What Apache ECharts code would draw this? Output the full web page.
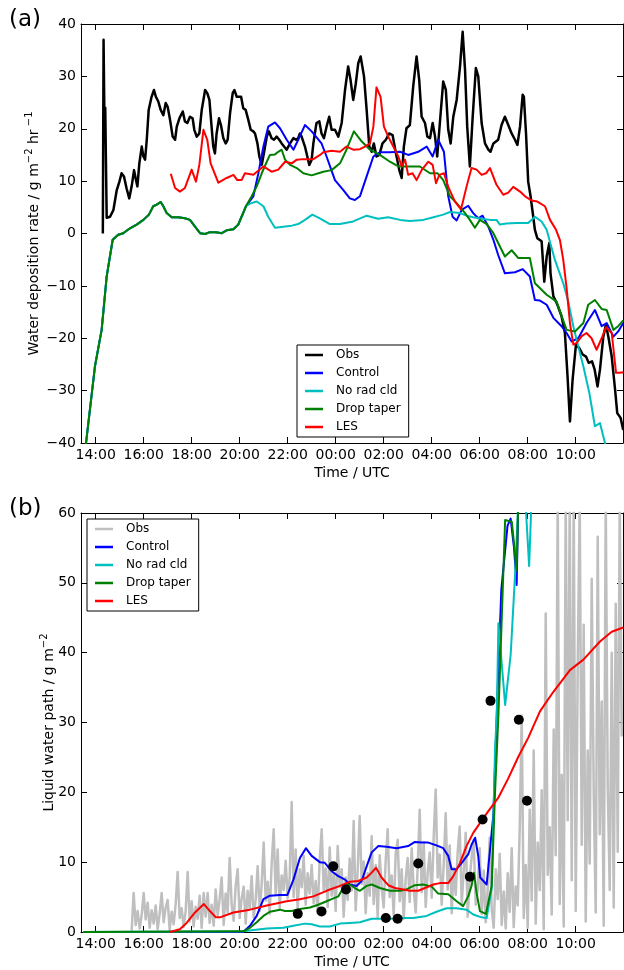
<!DOCTYPE html>
<html>
<head>
<meta charset="utf-8">
<script src="https://cdn.jsdelivr.net/npm/echarts@6/dist/echarts.min.js"></script>
<style>
  html, body { margin: 0; padding: 0; background: #fff; }
  #chart { width: 624px; height: 970px; }
</style>
</head>
<body>
<div id="chart"></div>
<script>
// Time is in decimal hours from 00:00 UTC of the first day (values above 24 fall on the next day).
const timeTicks = [14, 16, 18, 20, 22, 24, 26, 28, 30, 32, 34];
const rateTicks = [-40, 40, 10];   // min, max, step
const lwpTicks = [0, 60, 10];

// ---- (a) Water deposition rate, g m-2 hr-1 ----
const obsRate = [[14.30,0],[14.33,37],[14.37,20],[14.40,24],[14.46,3],[14.60,3.2],[14.74,4.5],[14.81,6.4],[14.88,8.3],[14.99,9.9],[15.08,11.5],[15.18,10.9],[15.29,8.6],[15.40,6.7],[15.50,9.0],[15.60,12.1],[15.68,10.2],[15.74,9.0],[15.82,13.4],[15.92,16.6],[15.99,14.7],[16.06,14.1],[16.13,17.9],[16.21,23.6],[16.33,26.1],[16.43,27.4],[16.51,26.1],[16.61,25.2],[16.71,23.6],[16.82,22.6],[16.92,24.9],[17.00,24.2],[17.10,21.7],[17.21,18.5],[17.31,17.9],[17.38,20.4],[17.49,22.0],[17.63,23.3],[17.72,21.4],[17.82,21.1],[17.93,22.3],[18.04,22.0],[18.11,19.8],[18.21,18.5],[18.32,19.1],[18.42,23.6],[18.56,27.4],[18.65,26.8],[18.74,25.5],[18.83,20.4],[18.90,16.6],[18.97,15.3],[19.04,19.1],[19.14,22.0],[19.22,20.7],[19.32,18.2],[19.42,17.2],[19.50,17.9],[19.60,23.0],[19.71,26.8],[19.78,27.4],[19.88,26.1],[19.97,26.1],[20.06,26.1],[20.15,23.9],[20.25,23.6],[20.36,21.7],[20.46,19.8],[20.57,19.5],[20.64,19.1],[20.74,17.2],[20.82,14.7],[20.92,13.1],[21.01,15.3],[21.13,18.5],[21.22,19.5],[21.33,18.2],[21.43,17.9],[21.54,18.5],[21.65,17.9],[21.75,17.2],[21.85,16.6],[21.96,16.0],[22.10,17.2],[22.24,18.2],[22.35,17.9],[22.44,18.2],[22.51,19.1],[22.58,18.5],[22.72,16.6],[22.90,13.1],[23.00,14.1],[23.07,17.2],[23.20,21.1],[23.32,21.4],[23.41,19.1],[23.51,18.2],[23.62,20.4],[23.73,22.3],[23.83,19.8],[23.97,19.8],[24.11,18.5],[24.25,21.1],[24.39,27.4],[24.52,31.9],[24.62,29.3],[24.73,25.5],[24.84,28.7],[24.94,32.5],[25.04,33.8],[25.18,30.0],[25.29,23.6],[25.40,16.6],[25.50,15.6],[25.59,17.2],[25.70,14.7],[25.82,15.0],[25.95,17.2],[26.09,17.9],[26.23,19.1],[26.37,18.8],[26.51,15.3],[26.65,12.1],[26.75,10.6],[26.84,16.6],[26.95,20.1],[27.09,20.7],[27.23,28.1],[27.37,33.8],[27.48,29.3],[27.58,22.3],[27.72,21.1],[27.82,18.5],[27.93,18.2],[28.04,21.1],[28.14,18.5],[28.23,14.7],[28.34,21.1],[28.48,29.0],[28.59,27.4],[28.69,19.8],[28.79,17.2],[28.90,22.3],[29.04,25.5],[29.18,31.9],[29.29,38.5],[29.39,31.2],[29.48,20.4],[29.59,12.8],[29.70,21.7],[29.84,31.6],[29.94,30.0],[30.08,21.1],[30.22,17.2],[30.36,16.0],[30.45,15.6],[30.57,17.2],[30.77,17.9],[30.91,20.7],[31.05,22.3],[31.19,20.7],[31.33,19.1],[31.47,17.9],[31.57,16.9],[31.68,20.4],[31.79,26.5],[31.84,26.1],[31.93,19.1],[32.02,9.9],[32.12,7.1],[32.23,3.2],[32.30,0.7],[32.40,-0.9],[32.58,-1.5],[32.69,-9.2],[32.79,-4.4],[32.90,-1.8],[32.95,-7.6],[33.07,-12.0],[33.18,-13.0],[33.27,-14.0],[33.41,-15.8],[33.55,-19.0],[33.66,-27.3],[33.76,-35.9],[33.87,-27.9],[34.01,-21.2],[34.15,-21.9],[34.29,-23.1],[34.43,-23.5],[34.54,-24.7],[34.68,-24.4],[34.79,-26.0],[34.91,-29.2],[35.01,-26.0],[35.15,-19.7],[35.26,-17.4],[35.36,-19.7],[35.50,-23.5],[35.64,-29.8],[35.73,-34.3],[35.87,-35.2],[35.98,-37.5]];

// spin-up shared by the three single-column runs before they separate near 20:15
const spinUpRate = [[13.52,-45],[13.60,-40],[13.97,-25.4],[14.25,-18.4],[14.46,-8.2],[14.71,-1.2],[14.94,-0.25],[15.15,0.06],[15.43,1.0],[15.71,1.7],[15.99,2.6],[16.22,3.6],[16.40,5.2],[16.54,5.5],[16.71,6.0],[16.82,5.2],[16.96,3.9],[17.17,3.1],[17.44,3.1],[17.72,2.9],[17.93,2.6],[18.14,1.3],[18.35,0.06],[18.56,-0.1],[18.76,0.25],[19.01,0.25],[19.25,0.06],[19.46,0.6],[19.74,0.8],[19.94,1.7],[20.08,3.2],[20.26,5.2]];

const controlRate = [[20.57,7.1],[20.78,11.5],[20.99,16.6],[21.19,20.4],[21.47,21.2],[21.68,20.1],[21.96,17.9],[22.24,16.0],[22.44,17.9],[22.72,20.7],[23.00,19.5],[23.41,17.2],[23.62,14.7],[23.97,10.2],[24.32,8.3],[24.59,6.7],[24.80,6.4],[25.01,7.1],[25.29,10.9],[25.57,14.7],[25.84,15.5],[26.26,15.5],[26.68,15.6],[27.02,15.0],[27.44,15.6],[27.79,16.6],[28.04,14.7],[28.27,17.9],[28.51,15.6],[28.69,7.1],[28.87,3.2],[29.04,2.5],[29.25,4.5],[29.52,5.3],[29.73,3.9],[29.94,2.9],[30.12,3.4],[30.36,1.3],[30.57,-1.2],[30.77,-4.1],[31.05,-7.6],[31.47,-7.4],[31.79,-6.8],[32.09,-8.2],[32.30,-12.7],[32.51,-12.8],[32.79,-13.6],[33.07,-16.1],[33.41,-17.7],[33.62,-19.0],[33.83,-20.6],[34.11,-20.0],[34.45,-17.1],[34.80,-14.6],[35.08,-17.7],[35.29,-17.1],[35.57,-19.7],[35.77,-18.7],[35.98,-17.1]];

const noRadCldRate = [[20.43,5.7],[20.71,6.1],[20.99,5.2],[21.19,3.2],[21.47,1.1],[21.82,1.3],[22.17,1.5],[22.44,1.8],[22.72,2.6],[23.03,3.6],[23.34,2.9],[23.76,1.8],[24.18,1.8],[24.73,2.3],[25.29,3.4],[25.77,2.8],[26.19,3.1],[26.68,2.6],[27.09,2.4],[27.65,2.6],[28.07,3.1],[28.48,3.6],[28.76,4.1],[29.18,3.9],[29.45,3.4],[29.73,3.1],[30.08,2.8],[30.43,2.6],[30.70,2.6],[30.84,1.7],[31.12,1.9],[31.54,2.0],[32.02,2.0],[32.30,3.2],[32.58,2.3],[32.79,0.7],[33.13,-5.0],[33.48,-9.5],[33.69,-13.0],[33.90,-17.7],[34.11,-21.6],[34.32,-25.4],[34.57,-30.5],[34.80,-36.8],[35.01,-36.2],[35.22,-40.0],[35.43,-43.8]];

const dropTaperRate = [[20.50,7.1],[20.71,9.0],[20.92,11.5],[21.13,13.7],[21.26,15.0],[21.47,15.1],[21.61,15.6],[21.75,16.0],[21.89,14.1],[22.10,13.1],[22.38,12.5],[22.65,11.5],[23.00,11.1],[23.35,11.6],[23.48,11.8],[23.83,12.1],[24.18,13.4],[24.45,16.0],[24.76,19.5],[25.08,17.6],[25.43,16.0],[25.84,15.0],[26.26,13.7],[26.61,12.8],[27.09,12.8],[27.51,12.8],[27.93,11.5],[28.25,11.5],[28.48,10.2],[28.76,7.1],[29.04,5.8],[29.39,3.9],[29.59,2.6],[29.80,1.1],[30.01,2.6],[30.29,1.8],[30.57,0.06],[31.05,-4.4],[31.33,-3.2],[31.61,-4.7],[32.09,-4.7],[32.30,-9.5],[32.79,-11.7],[33.20,-13.0],[33.62,-18.4],[33.97,-18.7],[34.32,-17.1],[34.52,-13.6],[34.80,-12.7],[35.08,-14.4],[35.29,-14.6],[35.57,-18.4],[35.77,-17.7],[35.98,-16.6]];

const lesRate = [[17.13,11.4],[17.31,8.7],[17.51,8.0],[17.72,8.7],[18.00,12.2],[18.18,9.9],[18.32,13.1],[18.49,19.8],[18.65,17.9],[18.79,13.4],[19.11,9.7],[19.46,10.6],[19.74,11.2],[19.90,10.2],[20.08,10.2],[20.22,11.5],[20.57,11.2],[20.99,12.8],[21.33,11.8],[21.61,12.2],[21.89,13.7],[22.17,13.4],[22.38,14.1],[22.65,14.2],[23.07,14.2],[23.35,15.0],[23.48,15.5],[23.83,15.8],[24.18,15.6],[24.45,16.6],[24.73,16.0],[25.01,16.1],[25.22,16.6],[25.43,17.2],[25.57,20.4],[25.70,27.9],[25.87,26.1],[26.01,20.4],[26.19,18.5],[26.40,16.6],[26.61,14.7],[26.75,12.8],[26.89,14.1],[27.02,11.2],[27.20,11.5],[27.37,10.2],[27.58,12.1],[27.86,13.7],[28.04,13.1],[28.18,9.6],[28.32,11.2],[28.51,11.5],[28.69,8.9],[28.97,6.1],[29.22,4.6],[29.45,8.9],[29.66,12.5],[29.87,12.2],[30.08,11.2],[30.26,11.5],[30.43,12.5],[30.70,9.3],[30.98,7.4],[31.19,7.8],[31.40,8.9],[31.68,8.0],[31.89,7.1],[32.16,6.3],[32.40,6.1],[32.72,5.2],[32.93,2.6],[33.18,0.7],[33.34,-1.2],[33.48,-5.0],[33.62,-10.4],[33.76,-17.1],[33.90,-21.2],[34.04,-20.9],[34.25,-19.6],[34.45,-19.0],[34.66,-20.0],[34.87,-22.2],[35.08,-20.0],[35.26,-17.9],[35.50,-19.0],[35.68,-26.6],[35.84,-26.6],[35.98,-26.5]];

// ---- (b) Liquid water path, g m-2 ----
// observed LWP: one value every 5 minutes starting at 15:30
const obsLwpStart = 15.5;
const obsLwpStep = 1 / 12;
const obsLwp = [
  0.2, 5.6, 1.0, 3.0, 0.5, 2.4,
  5.6, 1.8, 4.2, 0.6, 3.1, 1.2, 3.8, 0.4, 2.6, 5.6, 1.4, 3.5,
  4.6, 0.3, 2.9, 1.1, 4.0, 8.6, 2.0, 3.4, 0.7, 3.0, 8.6, 1.5,
  4.4, 0.8, 3.6, 1.9, 5.2, 0.6, 5.6, 2.2, 5.6, 1.3, 3.9, 0.9,
  6.1, 2.4, 4.7, 7.8, 1.0, 5.5, 2.8, 10.6, 3.9, 1.6, 6.6, 9.0,
  2.0, 4.8, 6.5, 1.2, 5.9, 3.3, 8.0, 2.1, 4.6, 9.4, 3.0, 6.8,
  12.8, 4.5, 7.2, 2.6, 9.8, 14.7, 5.3, 11.8, 3.4, 8.1, 6.0, 10.2,
  4.8, 7.7, 18.6, 5.0, 11.8, 3.2, 9.0, 6.4, 10.9, 3.9, 8.4, 5.5,
  9.6, 4.1, 7.3, 2.8, 10.3, 14.7, 6.0, 9.1, 3.6, 12.1, 5.2, 8.3,
  3.0, 12.3, 6.4, 9.0, 2.2, 7.8, 4.6, 10.5, 5.9, 15.9, 3.1, 8.8,
  16.6, 6.9, 10.1, 2.7, 8.4, 5.2, 13.7, 4.0, 9.6, 2.1, 11.0, 6.3,
  3.5, 10.2, 14.7, 5.0, 8.1, 2.4, 11.2, 13.2, 4.4, 9.0, 1.9, 7.6,
  10.6, 4.3, 12.0, 6.2, 2.8, 9.3, 17.5, 5.7, 12.9, 3.6, 8.5, 11.4,
  4.9, 13.6, 20.4, 7.8, 11.1, 3.9, 9.7, 17.0, 6.1, 12.4, 2.7, 9.2,
  5.3, 11.5, 15.1, 4.0, 8.7, 14.2, 2.2, 7.6, 10.8, 13.2, 3.9, 6.0,
  12.0, 2.6, 8.8, 1.4, 6.1, 13.5, 3.3, 0.6, 9.0, 4.7, 11.2, 1.0,
  5.8, 0.5, 8.4, 2.9, 12.0, 0.7, 6.5, 3.8, 14.8, 31.0, 2.0, 9.6,
  0.6, 17.5, 4.5, 26.0, 1.2, 12.8, 6.0, 20.3, 0.4, 45.6, 8.2, 15.0,
  2.5, 29.0, 11.0, 62.0, 4.0, 22.5, 0.8, 62.0, 16.0, 62.0, 7.4, 62.0,
  3.0, 38.0, 62.0, 12.5, 44.0, 1.5, 26.0, 9.8, 50.6, 20.0, 2.8, 56.6,
  14.0, 33.0, 0.9, 62.0, 21.0, 6.0, 40.0, 3.5, 47.0, 11.5, 62.0, 28.0
];

const controlLwp = [[13.50,0],[20.15,0],[20.43,0.9],[20.71,2.3],[20.99,4.7],[21.26,5.2],[21.68,5.3],[21.99,5.3],[22.24,7.5],[22.51,10.6],[22.76,12.0],[23.00,10.9],[23.34,10.0],[23.55,9.9],[23.83,8.7],[24.11,8.0],[24.39,7.5],[24.59,6.8],[24.87,6.6],[25.08,7.3],[25.29,9.4],[25.50,11.4],[25.77,12.3],[26.12,12.2],[26.54,12.0],[27.02,12.3],[27.30,12.9],[27.58,12.8],[27.86,12.8],[28.20,12.4],[28.48,12.0],[28.69,10.9],[28.83,9.0],[29.04,9.0],[29.25,9.9],[29.52,11.1],[29.66,12.5],[29.81,13.5],[29.94,10.9],[30.02,7.8],[30.29,6.8],[30.57,16.8],[30.71,31.0],[30.90,49.0],[31.16,58.2],[31.29,59.2],[31.43,55.0],[31.54,49.7],[31.61,62.0]];

const noRadCldLwp = [[13.50,0],[20.15,0.1],[21.13,0.5],[21.82,0.6],[22.24,0.9],[22.72,1.2],[23.00,1.1],[23.34,0.8],[23.76,0.8],[24.18,1.2],[24.59,1.3],[25.01,1.4],[25.50,1.9],[25.84,1.9],[26.26,1.9],[26.68,2.0],[27.23,2.0],[27.79,2.3],[28.20,2.9],[28.62,3.4],[29.04,3.4],[29.45,3.2],[29.73,2.5],[30.08,2.1],[30.29,2.0],[30.50,6.3],[30.64,26.3],[30.71,31.0],[30.78,44.2],[31.06,32.5],[31.29,39.7],[31.48,51.6],[31.61,62.0],[31.90,62.0],[32.06,52.4],[32.16,62.0]];

const dropTaperLwp = [[13.50,0],[20.15,0.1],[20.43,0.6],[20.71,1.4],[20.99,2.3],[21.26,2.9],[21.68,3.2],[21.89,3.0],[22.17,3.0],[22.51,3.3],[22.93,3.5],[23.27,3.9],[23.55,4.3],[23.83,4.7],[24.11,5.1],[24.39,6.8],[24.59,6.8],[24.80,6.3],[25.01,5.9],[25.29,6.6],[25.50,6.8],[25.84,6.3],[26.26,5.9],[26.68,5.9],[26.95,6.1],[27.30,6.7],[27.65,6.8],[28.00,6.5],[28.27,5.5],[28.69,5.4],[29.04,4.4],[29.31,3.7],[29.52,5.1],[29.66,6.6],[29.76,8.5],[29.87,5.6],[30.01,3.0],[30.26,2.6],[30.50,6.6],[30.64,20.1],[30.78,31.1],[31.06,59.0],[31.34,58.7],[31.54,51.8],[31.61,62.0]];

const lesLwp = [[17.10,0],[17.51,0.4],[17.79,1.3],[18.14,2.8],[18.51,4.0],[18.76,3.0],[19.01,2.1],[19.18,2.1],[19.74,2.8],[20.43,3.2],[21.13,3.8],[21.96,4.4],[22.51,4.7],[23.07,5.1],[23.62,5.9],[24.18,6.6],[24.59,7.2],[24.94,7.3],[25.29,7.8],[25.50,8.5],[25.68,9.2],[25.91,7.8],[26.19,6.7],[26.47,6.3],[26.82,6.1],[27.09,5.9],[27.44,5.9],[27.72,6.3],[28.07,6.8],[28.34,7.0],[28.69,7.0],[28.90,8.0],[29.18,9.9],[29.45,12.3],[29.73,14.2],[30.01,15.6],[30.36,17.3],[30.77,19.2],[31.19,22.0],[31.61,25.1],[32.02,27.8],[32.51,31.6],[33.07,34.4],[33.76,37.5],[34.32,39.0],[35.01,41.6],[35.50,43.0],[35.98,43.6]];

// point estimates of LWP
const sampleLwp = [[22.42,2.6],[23.41,2.95],[23.90,9.4],[24.43,6.1],[26.09,2.0],[26.58,1.9],[27.44,9.8],[29.59,7.9],[30.12,16.1],[30.45,33.1],[31.63,30.4],[31.97,18.8]];

const seriesNames = ['Obs', 'Control', 'No rad cld', 'Drop taper', 'LES'];
const seriesColors = ['#000000', '#0000ff', '#00bfbf', '#008000', '#ff0000'];
const obsGrey = '#bfbfbf';

// ---------------------------------------------------------------
const FONT = 'DejaVu Sans';
const X_MIN = 13.39, X_MAX = 35.97;

const obsLwpPairs = obsLwp.map((v, i) => [obsLwpStart + i * obsLwpStep, v]);

function hourLabel(v) {
  const h = Math.round(v) % 24;
  return (h < 10 ? '0' : '') + h + ':00';
}
function minusSign(v) {
  return String(v).replace('-', '\u2212');
}

function timeAxis(gridIndex, position, withLabels) {
  return {
    type: 'value', gridIndex, position, min: X_MIN, max: X_MAX,
    axisLine: { show: true, onZero: false, lineStyle: { color: '#000', width: 1 } },
    axisTick: { show: true, inside: true, length: 6, customValues: timeTicks, lineStyle: { color: '#000', width: 1 } },
    axisLabel: withLabels ? {
      show: true, customValues: timeTicks, formatter: hourLabel, margin: 5,
      fontFamily: FONT, fontSize: 14, color: '#000'
    } : { show: false },
    splitLine: { show: false },
    name: withLabels ? 'Time / UTC' : '',
    nameLocation: 'middle', nameGap: 23, nameMoveOverlap: false,
    nameTextStyle: { fontFamily: FONT, fontSize: 14, color: '#000' }
  };
}

function valueAxis(gridIndex, position, ticks, withLabels, name, gap) {
  return {
    type: 'value', gridIndex, position, min: ticks[0], max: ticks[1], interval: ticks[2],
    axisLine: { show: true, onZero: false, lineStyle: { color: '#000', width: 1 } },
    axisTick: { show: true, inside: true, length: 6, lineStyle: { color: '#000', width: 1 } },
    axisLabel: withLabels ? {
      show: true, formatter: minusSign, margin: 5,
      fontFamily: FONT, fontSize: 14, color: '#000'
    } : { show: false },
    splitLine: { show: false },
    name: withLabels ? name : '',
    nameLocation: 'middle', nameRotate: 90, nameGap: gap || 30, nameMoveOverlap: false,
    nameTextStyle: {
      fontFamily: FONT, fontSize: 14, color: '#000',
      rich: {
        t: { fontFamily: FONT, fontSize: 14, color: '#000', lineHeight: 20 },
        s: { fontFamily: FONT, fontSize: 10, color: '#000', lineHeight: 10, verticalAlign: 'top' }
      }
    }
  };
}

function lineSeries(name, data, color, width, xi, yi) {
  return {
    type: 'line', name, data, xAxisIndex: xi, yAxisIndex: yi,
    showSymbol: false, symbol: 'none', clip: true, silent: true,
    lineStyle: { color, width, join: 'round' }, itemStyle: { color }
  };
}

function legendBox(left, top, colors) {
  return {
    orient: 'vertical', left, top,
    data: seriesNames.map((n, i) => ({ name: n, itemStyle: { color: colors[i] } })),
    icon: 'rect', itemWidth: 18, itemHeight: 2.5, itemGap: 0,
    padding: [1, 8, 1, 8],
    borderColor: '#000', borderWidth: 1, borderRadius: 0,
    backgroundColor: '#fff', selectedMode: false,
    textStyle: { fontFamily: FONT, fontSize: 12, color: '#000', lineHeight: 18, padding: [0, 0, 0, 8] }
  };
}

const option = {
  animation: false,
  backgroundColor: '#fff',
  grid: [
    { left: 81, top: 24, width: 542, height: 419 },
    { left: 81, top: 513, width: 542, height: 420 }
  ],
  xAxis: [
    timeAxis(0, 'bottom', true),
    timeAxis(0, 'top', false),
    timeAxis(1, 'bottom', true),
    timeAxis(1, 'top', false)
  ],
  yAxis: [
    valueAxis(0, 'left', rateTicks, true, '{t|Water deposition rate / g m}{s|\u22122}{t| hr}{s| \u22121}', 37),
    valueAxis(0, 'right', rateTicks, false, ''),
    valueAxis(1, 'left', lwpTicks, true, '{t|Liquid water path / g m}{s|\u22122}', 22),
    valueAxis(1, 'right', lwpTicks, false, '')
  ],
  legend: [
    legendBox(297, 345, seriesColors),
    legendBox(87, 519, [obsGrey].concat(seriesColors.slice(1)))
  ],
  graphic: [
    { type: 'text', left: 9, top: 9, style: { text: '(a)', font: '23px "DejaVu Sans"', fill: '#000' } },
    { type: 'text', left: 9, top: 498, style: { text: '(b)', font: '23px "DejaVu Sans"', fill: '#000' } }
  ],
  series: [
    lineSeries('Obs', obsRate, seriesColors[0], 2.5, 0, 0),
    lineSeries('Control', spinUpRate.concat(controlRate), seriesColors[1], 2, 0, 0),
    lineSeries('No rad cld', spinUpRate.concat(noRadCldRate), seriesColors[2], 2, 0, 0),
    lineSeries('Drop taper', spinUpRate.concat(dropTaperRate), seriesColors[3], 2, 0, 0),
    lineSeries('LES', lesRate, seriesColors[4], 2, 0, 0),

    lineSeries('Obs', obsLwpPairs, obsGrey, 2.5, 2, 2),
    lineSeries('Control', controlLwp, seriesColors[1], 2, 2, 2),
    lineSeries('No rad cld', noRadCldLwp, seriesColors[2], 2, 2, 2),
    lineSeries('Drop taper', dropTaperLwp, seriesColors[3], 2, 2, 2),
    lineSeries('LES', lesLwp, seriesColors[4], 2, 2, 2),
    {
      type: 'scatter', name: 'Samples', data: sampleLwp, xAxisIndex: 2, yAxisIndex: 2,
      symbol: 'circle', symbolSize: 10, itemStyle: { color: '#000', opacity: 1 }, silent: true, z: 3
    }
  ]
};

const chart = echarts.init(document.getElementById('chart'), null, { renderer: 'canvas' });
chart.setOption(option);
</script>
</body>
</html>
